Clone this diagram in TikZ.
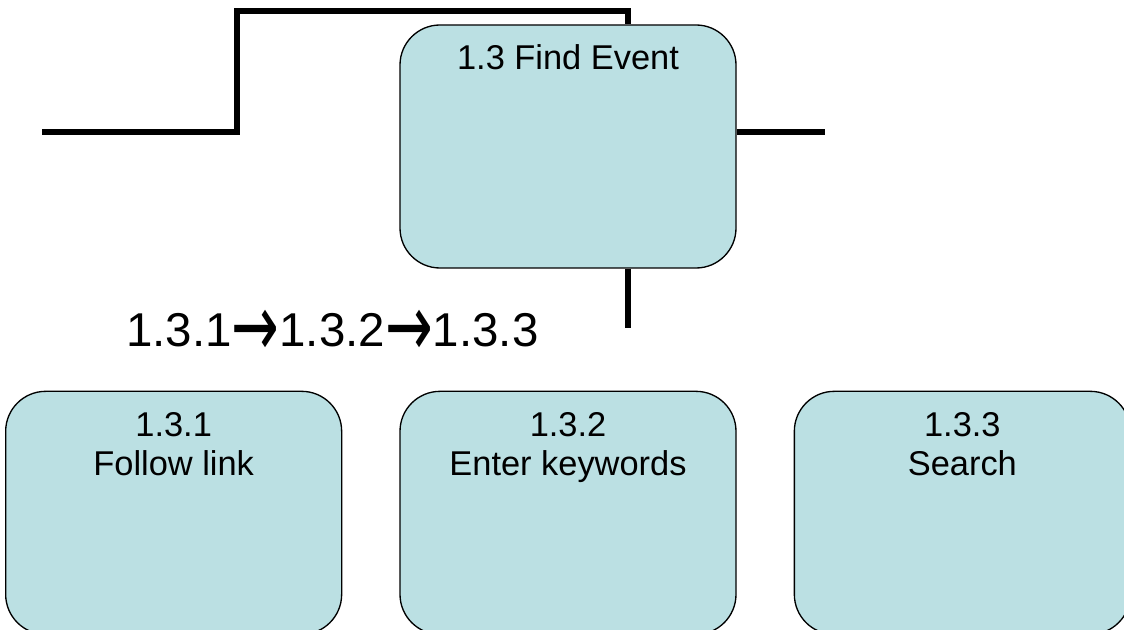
\documentclass[tikz,border=0pt]{standalone}
\usepackage{fontspec}
\setmainfont{Liberation Sans}
\newfontfamily\arrowfont{DejaVu Sans}
\usepackage{tikz}
\usetikzlibrary{positioning}

\definecolor{boxfill}{RGB}{187,224,227}
\newcommand{\thento}{\raisebox{-0.2em}{\scalebox{1.2}[1.85]{\arrowfont →}}}

\begin{document}
\begin{tikzpicture}[x=0.75pt,y=-0.75pt,node distance=42.75pt,
  proc/.style={draw, line width=1pt, fill=boxfill, rounded corners=30pt,
    minimum width=252pt, minimum height=182.25pt},
  title/.style={label={[anchor=north, inner sep=0pt, yshift=-16.5pt, align=center,
    font=\fontsize{25.8pt}{29.25pt}\selectfont]north:#1}},
  wire/.style={line width=4pt}]
  \useasboundingbox (0,0) rectangle (1124,630);

  \node[proc, label={[anchor=north, inner sep=0pt, yshift=-15pt,
    font=\fontsize{25.8pt}{29.25pt}\selectfont]north:1.3 Find Event}] (find) at (568,146.5) {};
  \node[proc, title={1.3.2\\Enter keywords}] (enter) [below=91.5pt of find] {};
  \node[proc, title={1.3.1\\Follow link}] (follow) [left=of enter] {};
  \node[proc, title={1.3.3\\Search}] (search) [right=of enter] {};

  \node[anchor=base west, inner sep=0pt, font=\fontsize{35.6pt}{40pt}\selectfont]
    (order) at (126,347) {1.3.1\thento1.3.2\thento1.3.3};

  \coordinate (in) at (42,132);
  \coordinate (up) at (237,11);
  \coordinate (top) at (628,11);
  \coordinate (out) at (825,132);
  \coordinate (down) at (628,328);

  \draw[wire] (in) -| (up) -- (top) -- (top |- find.north);
  \draw[wire] (out -| find.east) -- (out);
  \draw[wire] (down |- find.south) -- (down);
\end{tikzpicture}
\end{document}
